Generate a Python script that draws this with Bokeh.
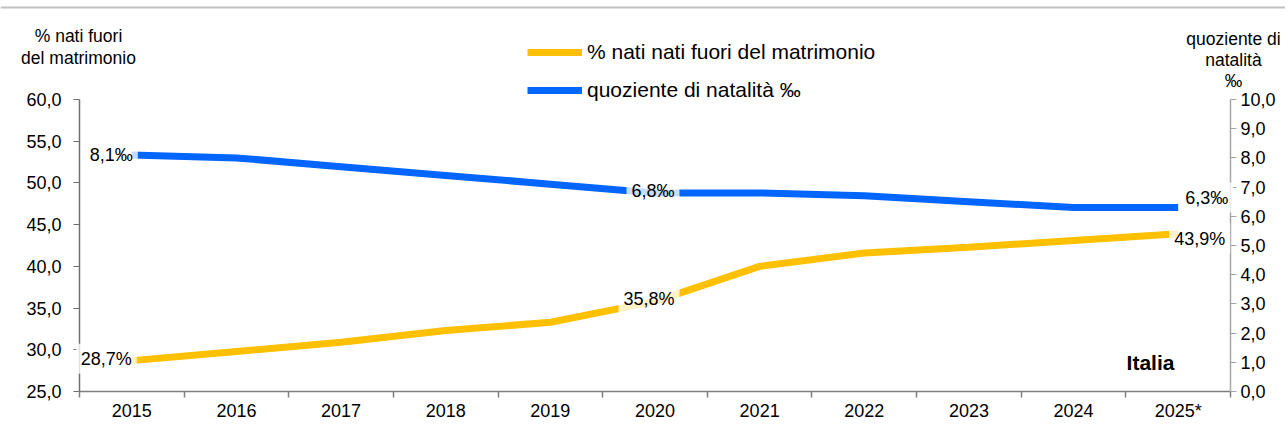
from bokeh.plotting import figure
from bokeh.models import (Range1d, LinearAxis, FixedTicker, CustomJSTickFormatter,
                          Legend, LegendItem, Label, ColumnDataSource, Span)
from bokeh.embed import file_html
from bokeh.resources import INLINE

years = ["2015", "2016", "2017", "2018", "2019", "2020", "2021", "2022", "2023", "2024", "2025*"]
pct_out = [28.7, 29.8, 30.9, 32.3, 33.3, 35.8, 40.0, 41.6, 42.3, 43.1, 43.9]
natality = [8.1, 8.0, 7.7, 7.4, 7.1, 6.8, 6.8, 6.7, 6.5, 6.3, 6.3]
left_ticks = [25, 30, 35, 40, 45, 50, 55, 60]
right_ticks = [0, 1, 2, 3, 4, 5, 6, 7, 8, 9, 10]
left_title = ["% nati fuori", "del matrimonio"]
right_title = ["quoziente di", "natalità", "‰"]

FONT = "Liberation Sans"
YELLOW = "#FFC000"
BLUE = "#0066FF"
W, H = 1285, 432

# pixel geometry of the plotting area inside the canvas
AX_L, AX_R = 79, 1230          # x of left / right axis
AX_T, AX_B = 99, 391           # y of top (60 / 10) / bottom (25 / 0)
n = len(years)
x_per_px = n / (AX_R - AX_L)
y_per_px = (60 - 25) / (AX_B - AX_T)
x0 = -0.5 - AX_L * x_per_px
x1 = n - 0.5 + (W - AX_R) * x_per_px
y0 = 25 - (H - AX_B) * y_per_px
y1 = 60 + AX_T * y_per_px
ratio = (60 - 25) / 10.0


def px(sx):
    return -0.5 + (sx - AX_L) * x_per_px


def py(sy):
    return 60 + (AX_T - sy) * y_per_px


xs = list(range(n))
src = ColumnDataSource(dict(x=xs, pct=pct_out, nat=natality))

p = figure(width=W, height=H, output_backend="svg", toolbar_location=None,
           x_range=Range1d(x0, x1), y_range=Range1d(y0, y1),
           min_border=0, min_border_left=0, min_border_right=0,
           min_border_top=0, min_border_bottom=0,
           x_axis_location=None, y_axis_location=None)
p.extra_y_ranges = {"right": Range1d((y0 - 25) / ratio, (y1 - 25) / ratio)}
p.outline_line_color = None
p.background_fill_color = "white"
p.border_fill_color = "white"
p.grid.visible = False

# thin grey rule at the very top of the picture
p.add_layout(Span(location=py(7), dimension="width", line_color="#c0c0c0", line_width=2))

fmt_num = CustomJSTickFormatter(code="return tick.toFixed(1).replace('.', ',');")

# x axis: labels at category centres, ticks at category boundaries
xa = LinearAxis(fixed_location=25, bounds=(-0.5, n - 0.5),
                ticker=FixedTicker(ticks=xs, minor_ticks=[i - 0.5 for i in range(n + 1)]),
                formatter=CustomJSTickFormatter(args=dict(labels=years),
                                                code="return labels[Math.round(tick)];"))
xa.major_tick_line_color = None
xa.major_tick_out = 6
xa.minor_tick_out = 6
xa.minor_tick_in = 0
xa.minor_tick_line_color = "#7f7f7f"
xa.minor_tick_line_width = 1.5
xa.axis_line_color = "#7f7f7f"
xa.axis_line_width = 1.5
xa.major_label_text_font = FONT
xa.major_label_text_font_size = "18px"
xa.major_label_text_color = "black"
xa.major_label_standoff = 3
p.add_layout(xa, "below")

# left axis
ya = LinearAxis(fixed_location=-0.5, bounds=(25, 60),
                ticker=FixedTicker(ticks=left_ticks, minor_ticks=[]), formatter=fmt_num)
ya.axis_line_color = "#6f6f6f"
ya.axis_line_width = 1.5
ya.major_tick_line_color = "#6f6f6f"
ya.major_tick_out = 6
ya.major_tick_in = 0
ya.minor_tick_line_color = None
ya.major_label_text_font = FONT
ya.major_label_text_font_size = "18px"
ya.major_label_text_color = "black"
ya.major_label_standoff = 12
p.add_layout(ya, "left")

# right axis
ra = LinearAxis(y_range_name="right", fixed_location=n - 0.5, bounds=(0, 10),
                ticker=FixedTicker(ticks=right_ticks, minor_ticks=[]), formatter=fmt_num)
ra.axis_line_color = "#a6a6a6"
ra.axis_line_width = 1.5
ra.major_tick_line_color = "#a6a6a6"
ra.major_tick_out = 6
ra.major_tick_in = 0
ra.minor_tick_line_color = None
ra.major_label_text_font = FONT
ra.major_label_text_font_size = "18px"
ra.major_label_text_color = "black"
ra.major_label_standoff = 4
p.add_layout(ra, "right")

# lines
r_pct = p.line("x", "pct", source=src, line_color=YELLOW, line_width=7)
r_nat = p.line("x", "nat", source=src, line_color=BLUE, line_width=7, y_range_name="right")

# data labels
def dlabel(x, y, text, align, xo, yo, rng="default"):
    p.add_layout(Label(x=x, y=y, text=text, x_offset=xo, y_offset=yo, y_range_name=rng,
                       text_font=FONT, text_font_size="18px", text_color="black",
                       text_align=align, text_baseline="middle",
                       background_fill_color="white", background_fill_alpha=0.78,
                       padding=5))

last = n - 1
dlabel(0, natality[0], "8,1‰", "right", 6, 0, "right")
dlabel(5, natality[5], "6,8‰", "center", -2, 2, "right")
dlabel(last, natality[last], "6,3‰", "left", 2, 10, "right")
dlabel(0, pct_out[0], "28,7%", "right", 5, 2)
dlabel(5, pct_out[5], "35,8%", "center", -6, 2)
dlabel(last, pct_out[last], "43,9%", "left", -9, -5)

# Italia
p.add_layout(Label(x=px(1150), y=py(362), text="Italia", text_font=FONT, text_font_size="21px",
                   text_font_style="bold", text_color="black", text_align="center",
                   text_baseline="middle"))

# axis titles
def title(x, y, text):
    p.add_layout(Label(x=x, y=y, text=text, text_font=FONT, text_font_size="17.5px",
                       text_color="black", text_align="center", text_baseline="middle"))

for i, t in enumerate(left_title):
    title(px(78), py(35 + 22 * i), t)
for i, t in enumerate(right_title):
    title(px(1233), py(38 + 21 * i), t)

# legend
legend = Legend(items=[LegendItem(label="% nati nati fuori del matrimonio", renderers=[r_pct]),
                       LegendItem(label="quoziente di natalità ‰", renderers=[r_nat])],
                location=(527, 330), orientation="vertical",
                glyph_width=55, glyph_height=20, label_height=20, spacing=14,
                label_standoff=5, padding=0, margin=0,
                label_text_font=FONT, label_text_font_size="21px", label_text_color="black",
                border_line_color=None, background_fill_alpha=0)
p.add_layout(legend)

open("out.html", "w").write(file_html(p, INLINE))
